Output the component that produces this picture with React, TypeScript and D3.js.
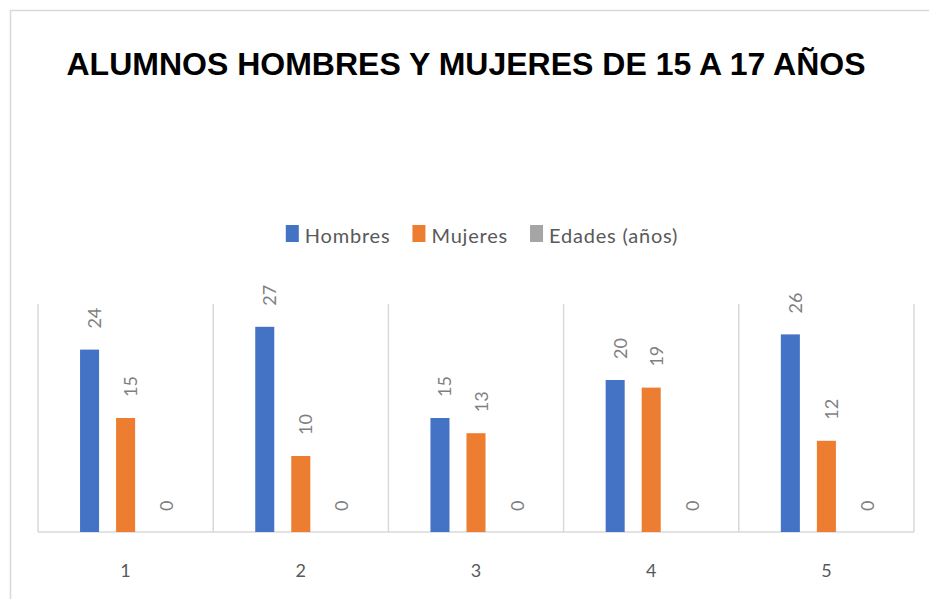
import React, { useEffect, useRef } from "react";
import * as d3 from "d3";

const categories = ["1", "2", "3", "4", "5"];
const seriesNames = ["Hombres", "Mujeres", "Edades (años)"];
const hombres = [24, 27, 15, 20, 26];
const mujeres = [15, 10, 13, 19, 12];
const edades = [0, 0, 0, 0, 0];
const colors = ["#4472c4", "#ed7d31", "#a5a5a5"];
const title = "ALUMNOS HOMBRES Y MUJERES DE 15 A 17 AÑOS";

export default function App() {
  const svgRef = useRef<SVGSVGElement>(null);

  useEffect(() => {
    const svg = d3.select(svgRef.current);
    svg.selectAll("*").remove();

    const width = 929;
    const height = 599;
    const plot = { left: 38, right: 914, top: 304, bottom: 532 };
    const font = "Lato, 'Open Sans', sans-serif";

    svg.attr("width", width).attr("height", height);

    // chart frame (only top and left visible)
    svg.append("path")
      .attr("d", `M10.5,${height} V10.5 H${width}`)
      .attr("fill", "none")
      .attr("stroke", "#d9d9d9")
      .attr("stroke-width", 1.5);

    svg.append("text")
      .attr("x", 466)
      .attr("y", 75)
      .attr("text-anchor", "middle")
      .style("font-family", "'Liberation Sans', Arial, sans-serif")
      .style("font-weight", "bold")
      .style("font-size", "32px")
      .attr("fill", "#000")
      .text(title);

    const values = [hombres, mujeres, edades];

    const x = d3.scaleBand().domain(categories).range([plot.left, plot.right]).padding(0);
    const bw = x.bandwidth();
    const xs = d3.scaleBand<number>()
      .domain([0, 1, 2])
      .range([bw * 0.24, bw * 0.76])
      .paddingInner(0.472)
      .paddingOuter(0);
    const y = d3.scaleLinear().domain([0, 30]).range([plot.bottom, plot.top]);

    // vertical category separators
    const bounds = categories.map((c) => x(c)!).concat([plot.right]);
    svg.append("g")
      .selectAll("line")
      .data(bounds)
      .join("line")
      .attr("x1", (d) => d)
      .attr("x2", (d) => d)
      .attr("y1", plot.top)
      .attr("y2", plot.bottom)
      .attr("stroke", "#d9d9d9")
      .attr("stroke-width", 1.5);

    svg.append("line")
      .attr("x1", plot.left)
      .attr("x2", plot.right)
      .attr("y1", plot.bottom)
      .attr("y2", plot.bottom)
      .attr("stroke", "#d9d9d9")
      .attr("stroke-width", 1.5);

    const rows = categories.flatMap((c, ci) =>
      values.map((vals, si) => ({ cat: c, s: si, v: vals[ci] }))
    );

    svg.append("g")
      .selectAll("rect")
      .data(rows)
      .join("rect")
      .attr("x", (d) => x(d.cat)! + xs(d.s)!)
      .attr("width", xs.bandwidth())
      .attr("y", (d) => y(d.v))
      .attr("height", (d) => plot.bottom - y(d.v))
      .attr("fill", (d) => colors[d.s]);

    svg.append("g")
      .selectAll("text")
      .data(rows)
      .join("text")
      .attr("transform", (d) => {
        const cx = x(d.cat)! + xs(d.s)! + xs.bandwidth() / 2 + 11.5;
        return `translate(${cx},${y(d.v) - 21}) rotate(-90)`;
      })
      .attr("text-anchor", "start")
      .style("font-family", font)
      .style("font-size", "18px")
      .attr("fill", "#7f7f7f")
      .text((d) => d.v);

    svg.append("g")
      .selectAll("text")
      .data(categories)
      .join("text")
      .attr("x", (d) => x(d)! + bw / 2)
      .attr("y", 577)
      .attr("text-anchor", "middle")
      .style("font-family", font)
      .style("font-size", "18px")
      .attr("fill", "#595959")
      .text((d) => d);

    // legend
    const legend = svg.append("g");
    const items = seriesNames.map((name, i) => {
      const g = legend.append("g");
      g.append("rect")
        .attr("x", 0)
        .attr("y", 225)
        .attr("width", 13)
        .attr("height", 17)
        .attr("fill", colors[i]);
      const t = g.append("text")
        .attr("x", 19)
        .attr("y", 243)
        .style("font-family", font)
        .style("font-size", "20px")
        .style("letter-spacing", "0.8px")
        .attr("fill", "#595959")
        .text(name);
      const w = 19 + (t.node() as SVGTextElement).getComputedTextLength();
      return { g, w };
    });
    const gap = 22;
    const total = d3.sum(items, (d) => d.w) + gap * (items.length - 1);
    let cur = 482 - total / 2;
    items.forEach((it) => {
      it.g.attr("transform", `translate(${cur},0)`);
      cur += it.w + gap;
    });
  }, []);

  return (
    <svg
      ref={svgRef}
      style={{ position: "absolute", left: 0, top: 0, background: "#fff" }}
    />
  );
}
